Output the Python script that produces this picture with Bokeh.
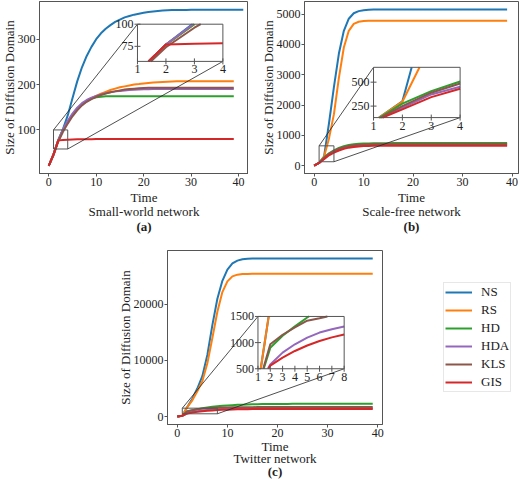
import numpy as np
from bokeh.plotting import figure
from bokeh.models import Range1d, FixedTicker, Title, Legend, LegendItem, Spacer
from bokeh.layouts import column, row
from bokeh.embed import file_html
from bokeh.resources import INLINE
from bokeh.core.properties import value

# ---------------- data ----------------
methods = ["NS", "RS", "HD", "HDA", "KLS", "GIS"]
colors = ["#1f77b4", "#ff7f0e", "#2ca02c", "#9467bd", "#8c564b", "#d62728"]

time40 = list(range(40))
time42 = list(range(42))

# (a) Small-world network
a_NS = [21, 46, 77, 102, 132, 170, 207, 238, 263, 283, 300, 313, 323, 331, 338, 343, 348, 351, 354, 356,
        358, 360, 361, 362, 363, 363.5, 364, 364, 364.5, 364.5, 365, 365, 365, 365, 365, 365, 365, 365, 365, 365,
        365, 365]
a_RS = [21, 46, 77, 100, 118, 133, 146, 156, 164, 170, 175, 180, 184, 188, 191, 194, 196, 198, 200, 201,
        202.5, 203.5, 204.5, 205, 205.5, 206, 206.5, 207, 207, 207, 207, 207, 207, 207, 207, 207, 207, 207, 207, 207]
a_HD = [21, 46, 77, 100, 118, 133, 146, 156, 164, 169, 172, 173, 174, 174, 174, 174, 174, 174, 174, 174,
        174, 174, 174, 174, 174, 174, 174, 174, 174, 174, 174, 174, 174, 174, 174, 174, 174, 174, 174, 174]
a_HDA = [21, 46, 77, 101, 120, 136, 149, 159, 166, 171, 175, 178, 181, 183, 185, 186, 187, 188, 188.5, 189,
         189.5, 189.5, 190, 190, 190, 190, 190, 190, 190, 190, 190, 190, 190, 190, 190, 190, 190, 190, 190, 190]
a_KLS = [21, 44, 74, 96, 114, 130, 143, 154, 162, 168, 173, 177, 180, 183, 185, 187, 189, 190, 191, 192,
         192.5, 193, 193, 193, 193, 193, 193, 193, 193, 193, 193, 193, 193, 193, 193, 193, 193, 193, 193, 193]
a_GIS = [21, 46, 77, 78, 78.5, 79, 79.2, 79.4, 79.5, 79.6, 80, 80, 80, 80, 80, 80, 80, 80, 80, 80,
         80, 80, 80, 80, 80, 80, 80, 80, 80, 80, 80, 80, 80, 80, 80, 80, 80, 80, 80, 80]

# (b) Scale-free network
b_NS = [0, 90, 300, 1400, 2600, 3700, 4450, 4850, 5030, 5100, 5130, 5145, 5150, 5150, 5150, 5150, 5150, 5150, 5150, 5150,
        5150, 5150, 5150, 5150, 5150, 5150, 5150, 5150, 5150, 5150, 5150, 5150, 5150, 5150, 5150, 5150, 5150, 5150, 5150, 5150]
b_RS = [0, 90, 296, 900, 1700, 2900, 3900, 4450, 4680, 4750, 4775, 4780, 4780, 4780, 4780, 4780, 4780, 4780, 4780, 4780,
        4780, 4780, 4780, 4780, 4780, 4780, 4780, 4780, 4780, 4780, 4780, 4780, 4780, 4780, 4780, 4780, 4780, 4780, 4780, 4780]
b_HD = [0, 90, 275, 406, 507, 585, 640, 680, 705, 720, 730, 736, 740, 742, 743, 744, 745, 745, 745, 745,
        745, 745, 745, 745, 745, 745, 745, 745, 745, 745, 745, 745, 745, 745, 745, 745, 745, 745, 745, 745]
b_HDA = [0, 90, 233, 372, 452, 525, 580, 620, 647, 665, 676, 682, 686, 688, 689, 690, 690, 690, 690, 690,
         690, 690, 690, 690, 690, 690, 690, 690, 690, 690, 690, 690, 690, 690, 690, 690, 690, 690, 690, 690]
b_KLS = [0, 90, 250, 390, 486, 558, 612, 650, 675, 690, 700, 706, 710, 712, 713, 714, 715, 715, 715, 715,
         715, 715, 715, 715, 715, 715, 715, 715, 715, 715, 715, 715, 715, 715, 715, 715, 715, 715, 715, 715]
b_GIS = [0, 90, 216, 344, 431, 500, 555, 595, 620, 636, 646, 652, 656, 658, 659, 660, 660, 660, 660, 660,
         660, 660, 660, 660, 660, 660, 660, 660, 660, 660, 660, 660, 660, 660, 660, 660, 660, 660, 660, 660]

# (c) Twitter network
c_NS = [0, 150, 1700, 3200, 5000, 7200, 11000, 16300, 21000, 24200, 26200, 27300, 27800, 28050, 28150, 28180, 28200, 28200, 28200, 28200,
        28200, 28200, 28200, 28200, 28200, 28200, 28200, 28200, 28200, 28200, 28200, 28200, 28200, 28200, 28200, 28200, 28200, 28200, 28200, 28200]
c_RS = [0, 150, 1700, 2900, 4500, 6300, 9500, 14000, 18700, 22200, 24100, 25000, 25300, 25400, 25430, 25450, 25450, 25450, 25450, 25450,
        25450, 25450, 25450, 25450, 25450, 25450, 25450, 25450, 25450, 25450, 25450, 25450, 25450, 25450, 25450, 25450, 25450, 25450, 25450, 25450]
c_HD = [0, 150, 900, 1130, 1310, 1480, 1620, 1740, 1840, 1920, 1990, 2040, 2090, 2130, 2160, 2190, 2210, 2225, 2240, 2250,
        2258, 2262, 2265, 2268, 2268, 2268, 2268, 2268, 2268, 2268, 2268, 2268, 2268, 2268, 2268, 2268, 2268, 2268, 2268, 2268]
c_HDA = [0, 150, 583, 808, 968, 1096, 1192, 1256, 1308, 1350, 1385, 1410, 1428, 1440, 1450, 1456, 1460, 1463, 1465, 1465,
         1465, 1465, 1465, 1465, 1465, 1465, 1465, 1465, 1465, 1465, 1465, 1465, 1465, 1465, 1465, 1465, 1465, 1465, 1465, 1465]
c_KLS = [0, 150, 968, 1150, 1290, 1420, 1465, 1520, 1565, 1600, 1625, 1645, 1660, 1672, 1680, 1686, 1690, 1694, 1697, 1700,
         1700, 1700, 1700, 1700, 1700, 1700, 1700, 1700, 1700, 1700, 1700, 1700, 1700, 1700, 1700, 1700, 1700, 1700, 1700, 1700]
c_GIS = [0, 150, 560, 712, 840, 945, 1030, 1100, 1154, 1200, 1240, 1270, 1295, 1315, 1330, 1342, 1352, 1360, 1365, 1370,
         1373, 1375, 1375, 1375, 1375, 1375, 1375, 1375, 1375, 1375, 1375, 1375, 1375, 1375, 1375, 1375, 1375, 1375, 1375, 1375]

x_ticks = [0, 10, 20, 30, 40]
a_yticks = [100, 200, 300]
b_yticks = [0, 1000, 2000, 3000, 4000, 5000]
c_yticks = [0, 10000, 20000]

a_inset_xticks = [1, 2, 3, 4]
a_inset_yticks = [75, 100]
b_inset_xticks = [1, 2, 3, 4]
b_inset_yticks = [250, 500]
c_inset_xticks = [1, 2, 3, 4, 5, 6, 7, 8]
c_inset_yticks = [500, 1000, 1500]

FONT = "Liberation Serif"
FONT_V = value(FONT)
FRAME = "#555555"
TXT = "#222222"


def clip_polyline(xs, ys, x0, x1, y0, y1):
    """Clip a polyline to a rectangle (Liang-Barsky per segment)."""
    out_x, out_y = [], []
    cx, cy = [], []
    for i in range(len(xs) - 1):
        xa, ya, xb, yb = float(xs[i]), float(ys[i]), float(xs[i + 1]), float(ys[i + 1])
        dx, dy = xb - xa, yb - ya
        u0, u1 = 0.0, 1.0
        ok = True
        for pp, qq in ((-dx, xa - x0), (dx, x1 - xa), (-dy, ya - y0), (dy, y1 - ya)):
            if pp == 0:
                if qq < 0:
                    ok = False
                    break
            else:
                r = qq / pp
                if pp < 0:
                    if r > u1:
                        ok = False
                        break
                    u0 = max(u0, r)
                else:
                    if r < u0:
                        ok = False
                        break
                    u1 = min(u1, r)
        if not ok:
            if len(cx) > 1:
                out_x.append(cx)
                out_y.append(cy)
            cx, cy = [], []
            continue
        sx, sy = xa + u0 * dx, ya + u0 * dy
        ex, ey = xa + u1 * dx, ya + u1 * dy
        if cx and (abs(cx[-1] - sx) > 1e-9 or abs(cy[-1] - sy) > 1e-9):
            if len(cx) > 1:
                out_x.append(cx)
                out_y.append(cy)
            cx, cy = [], []
        if not cx:
            cx, cy = [sx], [sy]
        cx.append(ex)
        cy.append(ey)
    if len(cx) > 1:
        out_x.append(cx)
        out_y.append(cy)
    return out_x, out_y


def style_axis(ax):
    ax.axis_line_color = FRAME
    ax.major_tick_line_color = FRAME
    ax.minor_tick_line_color = None
    ax.major_tick_in = 0
    ax.major_tick_out = 3
    ax.major_label_standoff = 1
    ax.major_label_text_font = FONT
    ax.major_label_text_font_size = "12px"
    ax.major_label_text_font_style = "normal"
    ax.major_label_text_color = TXT


def add_title(p, text, side, bold=False, standoff=0):
    t = Title(text=text, align="center", text_font=FONT, text_font_size="13px",
              text_font_style="bold" if bold else "normal", text_color=TXT, standoff=standoff)
    p.add_layout(t, side)


def make_fig(width, height, xr, yr, yticks, borders, net, tag, gaps):
    left, right, top, bottom = borders
    p = figure(width=width, height=height, x_range=Range1d(*xr), y_range=Range1d(*yr),
               output_backend="svg", toolbar_location=None,
               min_border_left=left, min_border_right=right, min_border_top=top, min_border_bottom=bottom,
               background_fill_color="white", border_fill_color="white")
    p.title.visible = False
    p.grid.visible = False
    p.outline_line_color = FRAME
    p.outline_line_width = 1
    p.xaxis[0].ticker = FixedTicker(ticks=x_ticks)
    p.yaxis[0].ticker = FixedTicker(ticks=yticks)
    style_axis(p.xaxis[0])
    style_axis(p.yaxis[0])
    add_title(p, "Size of Diffusion Domain", "left", standoff=-5)
    add_title(p, "Time", "below", standoff=gaps[0])
    add_title(p, net, "below", standoff=gaps[1])
    add_title(p, tag, "below", bold=True, standoff=gaps[2])
    return p


def draw_panel(p, series, inset_src, inset_tgt, ixt, iyt):
    for (tx, vals), c in zip(series, colors):
        p.line(tx, vals, line_color=c, line_width=2)
    (sx0, sx1), (sy0, sy1) = inset_src
    (tx0, tx1), (ty0, ty1) = inset_tgt
    p.quad(left=[sx0], right=[sx1], bottom=[sy0], top=[sy1], fill_color=None,
           line_color=FRAME, line_width=1)
    p.line([sx0, tx0], [sy1, ty1], line_color="#222222", line_width=0.8)
    p.line([sx1, tx1], [sy0, ty0], line_color="#222222", line_width=0.8)
    sub = p.subplot(x_source=Range1d(sx0, sx1), y_source=Range1d(sy0, sy1),
                    x_target=Range1d(tx0, tx1), y_target=Range1d(ty0, ty1))
    sub.quad(left=[sx0], right=[sx1], bottom=[sy0], top=[sy1], fill_color="white", line_color=None)
    for (tx, vals), c in zip(series, colors):
        xs, ys = clip_polyline(tx, vals, sx0, sx1, sy0, sy1)
        if xs:
            sub.multi_line(xs, ys, line_color=c, line_width=2)
    sub.quad(left=[sx0], right=[sx1], bottom=[sy0], top=[sy1], fill_color=None,
             line_color=FRAME, line_width=1)
    sub.scatter(ixt, [sy0] * len(ixt), marker="dash", angle=np.pi / 2, size=6, line_color=FRAME)
    sub.scatter([sx0] * len(iyt), iyt, marker="dash", size=6, line_color=FRAME)
    sub.text(ixt, [sy0] * len(ixt), text=[str(v) for v in ixt], text_align="center",
             text_baseline="top", y_offset=4, text_font=FONT_V, text_font_size="12px", text_color=TXT)
    sub.text([sx0] * len(iyt), iyt, text=[str(v) for v in iyt], text_align="right",
             text_baseline="middle", x_offset=-4, text_font=FONT_V, text_font_size="12px", text_color=TXT)


# ---------- panel (a)
pa = make_fig(248, 240, (-1.95, 42.1), (4, 383), a_yticks, (39, 0, 1, 67), "Small-world network", "(a)",
              (-2, -4, 1))
draw_panel(pa, [(time42, a_NS), (time40, a_RS), (time40, a_HD), (time40, a_HDA), (time40, a_KLS), (time40, a_GIS)],
           ((1, 4), (58, 100)), ((18.7, 36.7), (251, 333)), a_inset_xticks, a_inset_yticks)

# ---------- panel (b)
pb = make_fig(272, 240, (-1.95, 41.3), (-258, 5418), b_yticks, (56, 2, 1, 67), "Scale-free network", "(b)",
              (-2, -4, 1))
draw_panel(pb, [(time40, b_NS), (time40, b_RS), (time40, b_HD), (time40, b_HDA), (time40, b_KLS), (time40, b_GIS)],
           ((1, 4), (130, 655)), ((12.0, 29.5), (1587, 3246)), b_inset_xticks, b_inset_yticks)

# ---------- panel (c)
pc = make_fig(272, 242, (-1.95, 40.95), (-1410, 29610), c_yticks, (47, 8, 10, 58), "Twitter network", "(c)",
              (-5, -5, -3))
draw_panel(pc, [(time40, c_NS), (time40, c_RS), (time40, c_HD), (time40, c_HDA), (time40, c_KLS), (time40, c_GIS)],
           ((1, 8), (500, 1500)), ((16.1, 33.3), (8530, 17850)), c_inset_xticks, c_inset_yticks)

# ---------- legend (renderers hold real data but sit outside the visible range)
lf = figure(width=130, height=242, output_backend="svg", toolbar_location=None,
            x_range=Range1d(1000, 1001), y_range=Range1d(1000, 1001), x_axis_location=None, y_axis_location=None,
            min_border_left=21, min_border_right=0, min_border_top=0, min_border_bottom=0)
lf.title.visible = False
lf.grid.visible = False
lf.outline_line_color = None
items = []
for m, c, vals in zip(methods, colors, [a_NS[:40], a_RS, a_HD, a_HDA, a_KLS, a_GIS]):
    r = lf.line(time40, vals, line_color=c, line_width=2)
    items.append(LegendItem(label=m, renderers=[r]))
leg = Legend(items=items, location="top_left", margin=32, padding=1, spacing=2,
             glyph_width=27, glyph_height=16, label_height=16, label_standoff=9,
             label_text_font=FONT, label_text_font_size="13px", label_text_color=TXT,
             border_line_color="#d0d0d0", border_line_width=1, background_fill_alpha=1)
lf.add_layout(leg)

layout = column(row(pa, pb, spacing=0), row(Spacer(width=118, height=242), pc, lf, spacing=0), spacing=0)

with open("out.html", "w") as f:
    f.write(file_html(layout, INLINE))
